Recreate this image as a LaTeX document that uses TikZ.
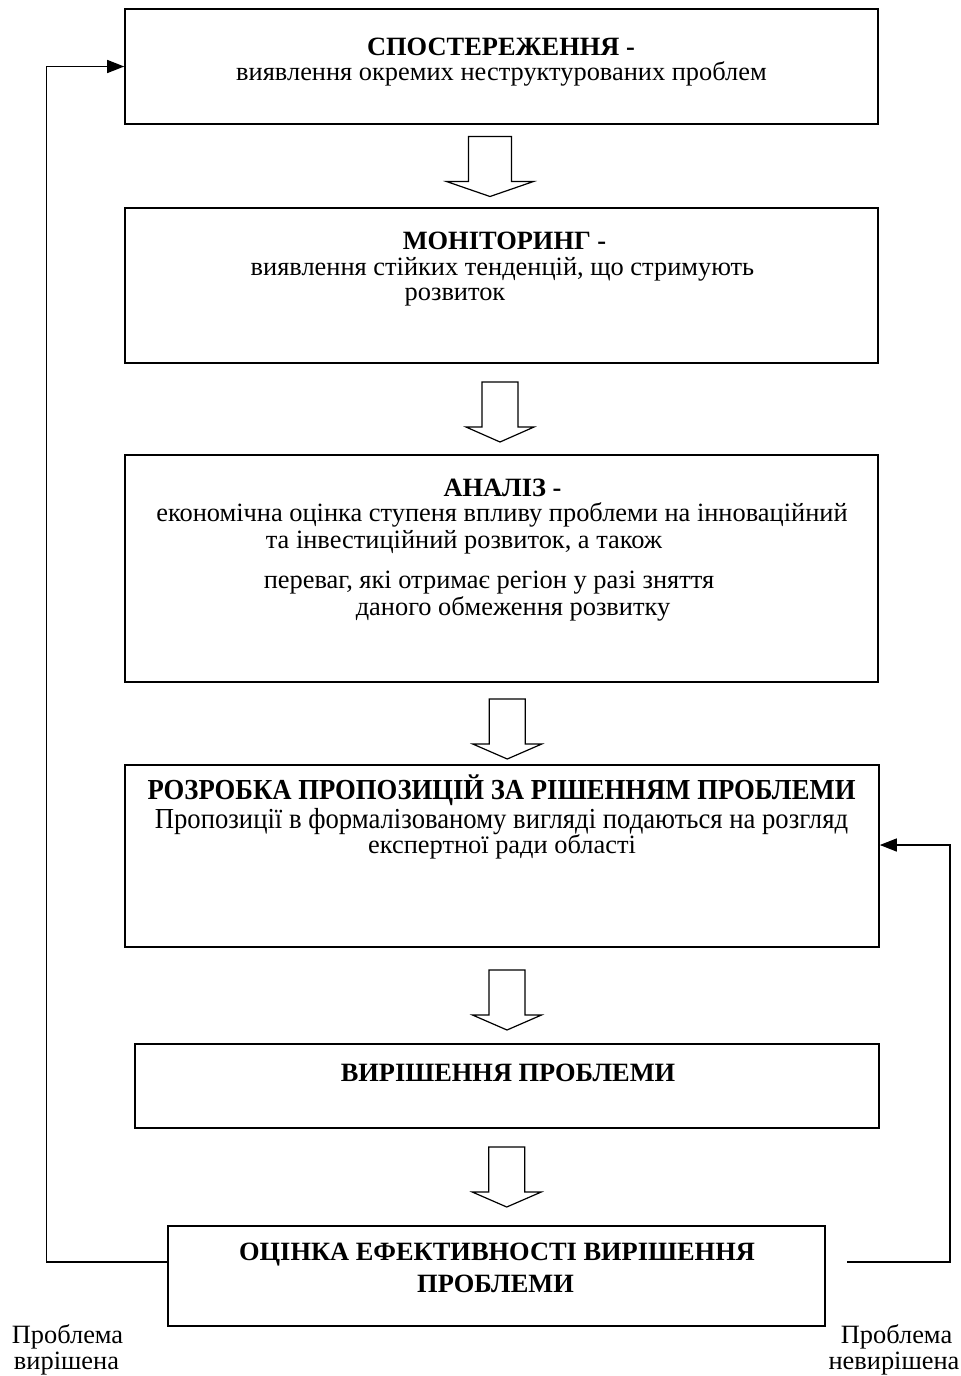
\documentclass[tikz,border=0pt]{standalone}
\usepackage{fontspec}
\setmainfont{Liberation Serif}
\newfontfamily\narrowfont[FakeStretch=0.92]{Liberation Serif}
\usetikzlibrary{arrows.meta,calc}

\tikzset{
  stagebox/.style={draw, rectangle, line width=1.6pt, inner sep=0pt},
  title/.style={anchor=base, font=\fontsize{26.4}{30}\selectfont\bfseries},
  bodytext/.style={anchor=base, font=\fontsize{26.4}{30}\selectfont},
  feedback/.style={line width=1.3pt, -{Triangle[length=17pt,width=13pt]}},
  blockarrow/.style={draw, line width=1.2pt, line join=miter, fill=white}
}

% hollow arrow between two boxes: from, to, shift, stem half width, head half width
\newcommand{\flowarrow}[5]{%
  \coordinate (m) at ($(#1.south)!0.5!(#2.north)+#3$);
  \draw[blockarrow] ([shift={(-#4,-30)}]m) -- ([shift={(#4,-30)}]m)
    -- ([shift={(#4,15)}]m) -- ([shift={(#5,15)}]m) -- ([shift={(0,30)}]m)
    -- ([shift={(-#5,15)}]m) -- ([shift={(-#4,15)}]m) -- cycle;
}

\begin{document}
\begin{tikzpicture}[
    x=1pt, y=-1pt,
    every node/.style={inner sep=0pt}
]
\useasboundingbox (0,0) rectangle (961,1376);

% boxes
\node[stagebox, minimum width=753, minimum height=115] (obs) at (501.5,66.5) {};
\node[stagebox, minimum width=753, minimum height=155] (mon) at (501.5,285.5) {};
\node[stagebox, minimum width=753, minimum height=227] (anl) at (501.5,568.5) {};
\node[stagebox, minimum width=754, minimum height=182] (prop) at (502,856) {};
\node[stagebox, minimum width=744, minimum height=84] (solv) at (507,1086) {};
\node[stagebox, minimum width=657, minimum height=100] (eval) at (496.5,1276) {};

% texts
\node[title] (obs-t) at (501,55) {СПОСТЕРЕЖЕННЯ -};
\node[bodytext] (obs-1) at (501.5,80) {виявлення окремих неструктурованих проблем};

\node[title] (mon-t) at (504.5,249) {МОНІТОРИНГ -};
\node[bodytext] (mon-1) at (502.5,275) {виявлення стійких тенденцій, що стримують};
\node[bodytext] (mon-2) at (455,300) {розвиток};

\node[title] (anl-t) at (502.5,496) {АНАЛІЗ -};
\node[bodytext] (anl-1) at (502,521) {економічна оцінка ступеня впливу проблеми на інноваційний};
\node[bodytext] (anl-2) at (464,548) {та інвестиційний розвиток, а також};
\node[bodytext] (anl-3) at (489,588) {переваг, які отримає регіон у разі зняття};
\node[bodytext] (anl-4) at (513,615) {даного обмеження розвитку};

\node[title, font=\fontsize{29}{32}\narrowfont\bfseries] (prop-t) at (501.5,799) {РОЗРОБКА ПРОПОЗИЦІЙ ЗА РІШЕННЯМ ПРОБЛЕМИ};
\node[bodytext, font=\fontsize{29}{32}\narrowfont] (prop-1) at (501.5,828) {Пропозиції в формалізованому вигляді подаються на розгляд};
\node[bodytext] (prop-2) at (502,853) {експертної ради області};

\node[title] (solv-t) at (508,1081) {ВИРІШЕННЯ ПРОБЛЕМИ};

\node[title] (eval-t) at (497,1260) {ОЦІНКА ЕФЕКТИВНОСТІ ВИРІШЕННЯ};
\node[title] (eval-2) at (495.5,1292) {ПРОБЛЕМИ};

% hollow arrows
\flowarrow{obs}{mon}{(-11.5,0.5)}{21.5}{43.5}
\flowarrow{mon}{anl}{(-1.5,3)}{18}{34}
\flowarrow{anl}{prop}{(5.5,5.5)}{18}{34.5}
\flowarrow{prop}{solv}{(2.5,4.5)}{18}{34.5}
\flowarrow{solv}{eval}{(5,0)}{18}{34.5}

% feedback loops
\draw[feedback] ([yshift=14pt]eval.west) -- ++(-121,0) |- (obs.west);
\coordinate (nr) at (847,1262);
\draw[feedback] (nr) -- ++(103,0) |- ([yshift=11pt]prop.east);

\node[bodytext] (done-1) at (67.5,1343) {Проблема};
\node[bodytext] (done-2) at (66.5,1369) {вирішена};
\node[bodytext] (open-1) at (896.5,1343) {Проблема};
\node[bodytext] (open-2) at (894,1369) {невирішена};
\end{tikzpicture}
\end{document}
